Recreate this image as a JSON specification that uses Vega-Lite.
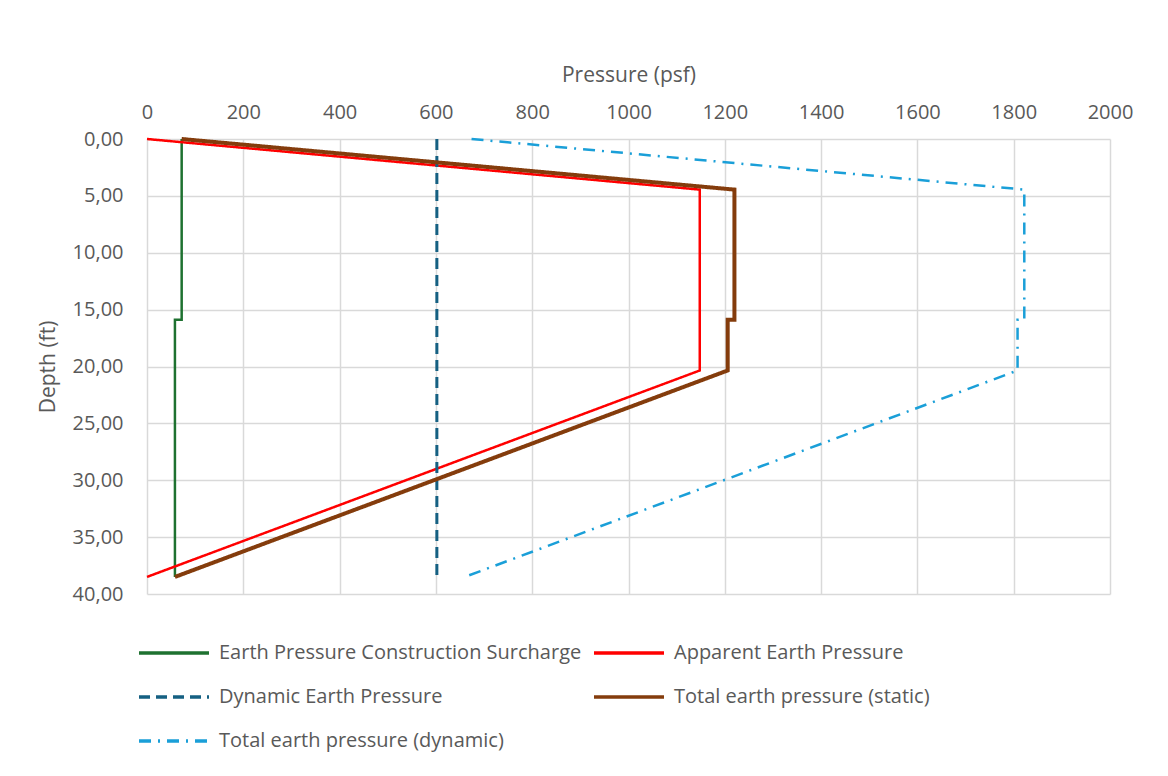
{
  "$schema": "https://vega.github.io/schema/vega-lite/v6.json",
  "autosize": {"type": "none"},
  "width": 963,
  "height": 455,
  "padding": {"left": 147, "top": 139, "right": 58, "bottom": 182},
  "background": "white",
  "config": {
    "font": "Open Sans",
    "view": {"stroke": null},
    "axis": {"labelColor": "#595959", "titleColor": "#595959", "labelFontSize": 20, "titleFontSize": 21, "titleFontWeight": "normal", "gridColor": "#D9D9D9", "gridWidth": 1.5, "ticks": false, "domain": false, "labelFlush": false}
  },
  "data": {
    "values": [
      {"series": "Earth Pressure Construction Surcharge", "i": 0, "pressure": 72, "depth": 0},
      {"series": "Earth Pressure Construction Surcharge", "i": 1, "pressure": 72, "depth": 15.9},
      {"series": "Earth Pressure Construction Surcharge", "i": 2, "pressure": 58, "depth": 15.9},
      {"series": "Earth Pressure Construction Surcharge", "i": 3, "pressure": 58, "depth": 38.5},
      {"series": "Apparent Earth Pressure", "i": 0, "pressure": 0, "depth": 0},
      {"series": "Apparent Earth Pressure", "i": 1, "pressure": 1148, "depth": 4.45},
      {"series": "Apparent Earth Pressure", "i": 2, "pressure": 1148, "depth": 20.35},
      {"series": "Apparent Earth Pressure", "i": 3, "pressure": 0, "depth": 38.5},
      {"series": "Dynamic Earth Pressure", "i": 0, "pressure": 602, "depth": 0},
      {"series": "Dynamic Earth Pressure", "i": 1, "pressure": 602, "depth": 38.5},
      {"series": "Total earth pressure (static)", "i": 0, "pressure": 72, "depth": 0},
      {"series": "Total earth pressure (static)", "i": 1, "pressure": 1220, "depth": 4.45},
      {"series": "Total earth pressure (static)", "i": 2, "pressure": 1220, "depth": 15.9},
      {"series": "Total earth pressure (static)", "i": 3, "pressure": 1206, "depth": 15.9},
      {"series": "Total earth pressure (static)", "i": 4, "pressure": 1206, "depth": 20.35},
      {"series": "Total earth pressure (static)", "i": 5, "pressure": 58, "depth": 38.5},
      {"series": "Total earth pressure (dynamic)", "i": 0, "pressure": 674, "depth": 0},
      {"series": "Total earth pressure (dynamic)", "i": 1, "pressure": 1822, "depth": 4.45},
      {"series": "Total earth pressure (dynamic)", "i": 2, "pressure": 1822, "depth": 15.9},
      {"series": "Total earth pressure (dynamic)", "i": 3, "pressure": 1808, "depth": 15.9},
      {"series": "Total earth pressure (dynamic)", "i": 4, "pressure": 1808, "depth": 20.35},
      {"series": "Total earth pressure (dynamic)", "i": 5, "pressure": 660, "depth": 38.5}
    ]
  },
  "encoding": {
    "x": {"field": "pressure", "type": "quantitative", "scale": {"domain": [0, 2000], "nice": false, "zero": false},
      "axis": {"orient": "top", "title": "Pressure (psf)", "values": [0,200,400,600,800,1000,1200,1400,1600,1800,2000], "format": "d", "labelPadding": 17, "titlePadding": 17}},
    "y": {"field": "depth", "type": "quantitative", "scale": {"domain": [0, 40], "reverse": true, "nice": false},
      "axis": {"title": "Depth (ft)", "values": [0,5,10,15,20,25,30,35,40], "labelExpr": "replace(format(datum.value, '.2f'), '.', ',')", "labelPadding": 24, "titlePadding": 14}},
    "order": {"field": "i", "type": "quantitative"},
    "detail": {"field": "series", "type": "nominal"},
    "color": {"field": "series", "type": "nominal", "title": null,
      "scale": {"domain": ["Earth Pressure Construction Surcharge", "Dynamic Earth Pressure", "Total earth pressure (dynamic)", "Apparent Earth Pressure", "Total earth pressure (static)"],
        "range": ["#1E7130", "#156082", "#1A9FD8", "#FF0000", "#843C0C"]},
      "legend": {"orient": "none", "legendX": -10, "legendY": 503, "columns": 2, "columnPadding": 10, "rowPadding": 22, "clipHeight": 22, "symbolType": "stroke", "symbolSize": 4900, "symbolStrokeWidth": 3.5, "labelFontSize": 20, "labelColor": "#595959", "labelFont": "Open Sans", "labelOffset": 8, "labelLimit": 500}},
    "strokeDash": {"field": "series", "type": "nominal", "title": null,
      "scale": {"domain": ["Earth Pressure Construction Surcharge", "Dynamic Earth Pressure", "Total earth pressure (dynamic)", "Apparent Earth Pressure", "Total earth pressure (static)"],
        "range": [[1, 0], [11, 6], [12, 7, 2, 7], [1, 0], [1, 0]]}}
  },
  "layer": [
    {"transform": [{"filter": "datum.series === 'Earth Pressure Construction Surcharge' || datum.series === 'Apparent Earth Pressure'"}],
     "mark": {"type": "line", "strokeWidth": 2.5}},
    {"transform": [{"filter": "datum.series === 'Dynamic Earth Pressure'"}],
     "mark": {"type": "line", "strokeWidth": 3}},
    {"transform": [{"filter": "datum.series === 'Total earth pressure (static)'"}],
     "mark": {"type": "line", "strokeWidth": 4, "strokeJoin": "miter"}},
    {"transform": [{"filter": "datum.series === 'Total earth pressure (dynamic)'"}],
     "mark": {"type": "line", "strokeWidth": 2.5}}
  ]
}
